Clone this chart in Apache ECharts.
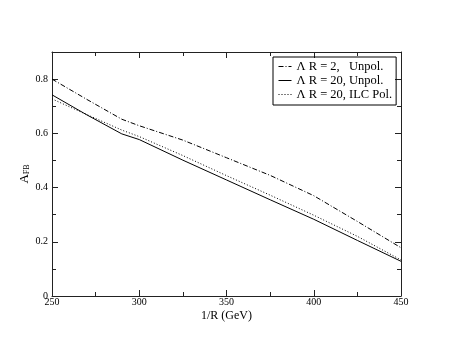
<!DOCTYPE html>
<html>
<head>
<meta charset="utf-8">
<script src="https://cdn.jsdelivr.net/npm/echarts@6/dist/echarts.min.js"></script>
<style>
html,body{margin:0;padding:0;background:#fff;}
#c{width:451px;height:348px;}
</style>
</head>
<body>
<div id="c"></div>
<script>
const xValues = [250, 270, 290, 300, 325, 350, 375, 400, 425, 450];
const lambda2Unpol = [0.800, 0.725, 0.652, 0.628, 0.575, 0.510, 0.445, 0.370, 0.275, 0.178];
const lambda20Unpol = [0.742, 0.668, 0.598, 0.577, 0.501, 0.428, 0.355, 0.283, 0.205, 0.128];
const lambda20ILCPol = [0.727, 0.669, 0.612, 0.588, 0.518, 0.444, 0.372, 0.298, 0.220, 0.133];
const seriesNames = ['\u039B R = 2,   Unpol.', '\u039B R = 20, Unpol.', '\u039B R = 20, ILC Pol.'];
const yTickLabels = ['0', '0.2', '0.4', '0.6', '0.8'];
const xTickLabels = ['250', '300', '350', '400', '450'];

const serif = '"Liberation Serif", "DejaVu Serif", serif';
const frameColor = '#222';

function pairs(ys) { return xValues.map((x, i) => [x, ys[i]]); }

const chart = echarts.init(document.getElementById('c'), null, {renderer: 'canvas'});

function xAx(pos, showLabels) {
  return {
    type: 'value', position: pos, min: 250, max: 450, interval: 50,
    axisLine: {show: true, onZero: false, lineStyle: {color: frameColor, width: 1}},
    axisTick: {show: true, inside: true, length: 6, lineStyle: {color: frameColor}},
    minorTick: {show: true, splitNumber: 2, length: 4, lineStyle: {color: frameColor}},
    splitLine: {show: false}, minorSplitLine: {show: false},
    axisLabel: {show: showLabels, margin: 1, color: '#000', fontFamily: serif, fontSize: 10,
      formatter: v => xTickLabels.includes(String(v)) ? String(v) : ''},
    name: showLabels ? '1/R (GeV)' : '', nameLocation: 'middle', nameGap: 14, nameMoveOverlap: false,
    nameTextStyle: {color: '#000', fontFamily: serif, fontSize: 12}
  };
}
function yAx(pos, major, showLabels, withName) {
  return {
    type: 'value', position: pos, min: 0, max: 0.9, interval: major ? 0.2 : 0.1,
    axisLine: {show: !major, onZero: false, lineStyle: {color: frameColor, width: 1}},
    axisTick: {show: true, inside: true, length: major ? 6 : 4, lineStyle: {color: frameColor}},
    splitLine: {show: false},
    axisLabel: {show: showLabels, margin: 4, color: '#000', fontFamily: serif, fontSize: 10,
      formatter: v => { const s = String(Number(v.toFixed(1))); return yTickLabels.includes(s) ? s : ''; }},
    name: withName ? '{a|A}{s|FB}' : '', nameLocation: 'middle', nameGap: 21, nameMoveOverlap: false,
    nameTextStyle: {color: '#000', fontFamily: serif,
      rich: {
        a: {fontSize: 13, fontFamily: serif, color: '#000', lineHeight: 13},
        s: {fontSize: 8, fontFamily: serif, color: '#000', verticalAlign: 'bottom', lineHeight: 8, padding: [6, 0, 0, 0]}
      }}
  };
}

const option = {
  backgroundColor: '#fff',
  animation: false,
  grid: {left: 52, right: 50, top: 52, bottom: 52, containLabel: false},
  xAxis: [xAx('bottom', true), xAx('top', false)],
  yAxis: [
    yAx('left', false, true, true),
    yAx('left', true, false, false),
    yAx('right', false, false, false),
    yAx('right', true, false, false)
  ],
  legend: {
    orient: 'vertical', left: 273, top: 57,
    padding: [3, 4, 4, 5],
    borderColor: '#000', borderWidth: 1, borderRadius: 0,
    itemWidth: 13, itemHeight: 10, itemGap: 1,
    itemStyle: {opacity: 0, borderWidth: 0},
    lineStyle: {width: 1},
    textStyle: {fontFamily: serif, fontSize: 12.5, color: '#000', lineHeight: 13},
    data: seriesNames
  },
  series: [
    {name: seriesNames[0], type: 'line', data: pairs(lambda2Unpol), symbol: 'none',
      lineStyle: {color: '#000', width: 1, type: [5, 2, 1, 2]}, itemStyle: {color: '#000'}},
    {name: seriesNames[1], type: 'line', data: pairs(lambda20Unpol), symbol: 'none',
      lineStyle: {color: '#000', width: 1, type: 'solid'}, itemStyle: {color: '#000'}},
    {name: seriesNames[2], type: 'line', data: pairs(lambda20ILCPol), symbol: 'none',
      lineStyle: {color: '#000', width: 1, type: [1, 2]}, itemStyle: {color: '#000'}}
  ]
};
chart.setOption(option);
</script>
</body>
</html>
